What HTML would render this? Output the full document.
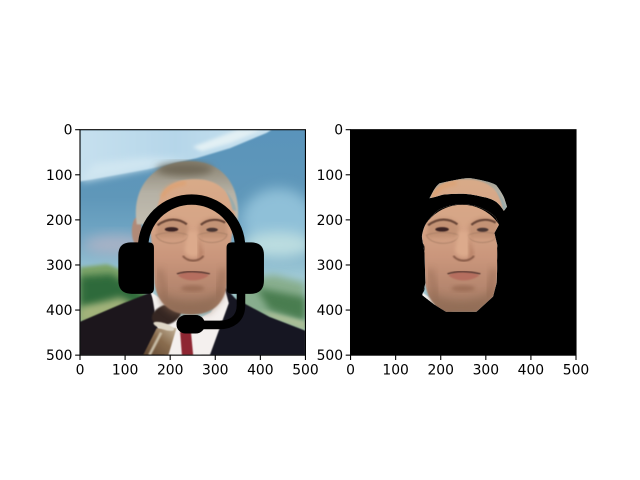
<!DOCTYPE html>
<html>
<head>
<meta charset="utf-8">
<style>
html,body{margin:0;padding:0;background:#fff;width:640px;height:480px;overflow:hidden}
svg{display:block}
text{font-family:"DejaVu Sans","Liberation Sans",sans-serif;font-size:13.89px;fill:#000}
</style>
</head>
<body>
<svg id="fig" xmlns="http://www.w3.org/2000/svg" width="640" height="480" viewBox="0 0 640 480">
<defs>
<filter id="b1" x="-20%" y="-20%" width="140%" height="140%"><feGaussianBlur stdDeviation="1.2"/></filter>
<filter id="b2" x="-20%" y="-20%" width="140%" height="140%"><feGaussianBlur stdDeviation="2"/></filter>
<filter id="b4" x="-20%" y="-20%" width="140%" height="140%"><feGaussianBlur stdDeviation="4"/></filter>
<filter id="b8" x="-30%" y="-30%" width="160%" height="160%"><feGaussianBlur stdDeviation="8"/></filter>
<filter id="b14" x="-40%" y="-40%" width="180%" height="180%"><feGaussianBlur stdDeviation="14"/></filter>
<linearGradient id="skyG" x1="0" y1="0" x2="1" y2="0"><stop offset="0" stop-color="#c6e0ee"/><stop offset=".5" stop-color="#b5d6e9"/><stop offset="1" stop-color="#c9e2ef"/></linearGradient>
<linearGradient id="blueG" x1="0" y1="0" x2="0" y2="1"><stop offset="0" stop-color="#5a94bb"/><stop offset=".3" stop-color="#5f97b9"/><stop offset=".5" stop-color="#74a9c6"/><stop offset=".65" stop-color="#9fc9d6"/><stop offset="1" stop-color="#b3d6d6"/></linearGradient>
<linearGradient id="faceG" x1="0" y1="0" x2="0" y2="1"><stop offset="0" stop-color="#d8aa88"/><stop offset=".35" stop-color="#d6a486"/><stop offset=".6" stop-color="#c8947a"/><stop offset=".8" stop-color="#b5866e"/><stop offset="1" stop-color="#95725c"/></linearGradient>
<linearGradient id="hairG" x1="0" y1="0" x2="0" y2="1"><stop offset="0" stop-color="#8a8372"/><stop offset=".5" stop-color="#b5b1a5"/><stop offset="1" stop-color="#c2bdb0"/></linearGradient>
<linearGradient id="micG" x1="1" y1="0" x2="0" y2="1"><stop offset="0" stop-color="#c4b49a"/><stop offset=".45" stop-color="#8a6d4f"/><stop offset="1" stop-color="#5f4630"/></linearGradient>
<g id="photo">
  <rect width="500" height="500" fill="url(#blueG)"/>
  <ellipse cx="440" cy="200" rx="80" ry="70" fill="#8fc0d8" filter="url(#b14)"/>
  <path d="M0 0 L425 0 L414 7 L333 41 L259 63 L148 88 L0 115 Z" fill="url(#skyG)" filter="url(#b2)"/>
  <path d="M0 116 L148 87 L240 65 L140 62 L30 75 Z" fill="#d0e6f1" filter="url(#b8)"/>
  <path d="M270 48 L333 30 L405 0 L350 0 L250 38 Z" fill="#e2f0f4" filter="url(#b4)"/>
  <ellipse cx="80" cy="255" rx="75" ry="22" fill="#a9b2c6" filter="url(#b14)"/>
  <ellipse cx="440" cy="255" rx="80" ry="28" fill="#bcdde0" filter="url(#b14)"/>
  <polygon points="0,305 60,298 140,330 150,430 0,425" fill="#7fa56a" filter="url(#b4)"/>
  <polygon points="0,325 70,320 150,370 120,395 0,395" fill="#2f6a3a" filter="url(#b8)"/>
  <polygon points="0,395 90,372 120,388 20,425 0,432" fill="#a4b47c" filter="url(#b8)"/>
  <polygon points="350,335 430,322 500,340 500,450 350,400" fill="#88ae8e" filter="url(#b8)"/>
  <polygon points="390,350 500,372 500,425 420,400" fill="#4a7d4f" filter="url(#b8)"/>
  <polygon points="400,400 500,425 500,445 430,420" fill="#a9bd96" filter="url(#b4)"/>
  <polygon points="0,426 96,385 159,360 205,500 0,500" fill="#1b141c" filter="url(#b1)"/>
  <polygon points="322,350 345,375 420,415 500,446 500,500 268,500" fill="#171420" filter="url(#b1)"/>
  <polygon points="159,362 200,405 250,425 290,405 322,355 330,385 288,500 188,500 170,430" fill="#f4f0ee" filter="url(#b1)"/>
  <path d="M155 358 L215 400 L215 412 L175 405 Z" fill="#f8f6f4" filter="url(#b1)"/>
  <polygon points="222,448 246,448 251,500 226,500" fill="#8e2630" filter="url(#b1)"/>
  <polygon points="196,500 140,500 170,440 214,440" fill="url(#micG)" filter="url(#b1)"/>
  <line x1="180" y1="450" x2="154" y2="500" stroke="#c8bca6" stroke-width="6" filter="url(#b2)"/>
  <ellipse cx="192" cy="410" rx="34" ry="22" transform="rotate(-22 192 410)" fill="#352820" filter="url(#b2)"/>
  <ellipse cx="186" cy="436" rx="24" ry="7" fill="#ded6c6" filter="url(#b1)" transform="rotate(18 186 436)"/>
  <ellipse cx="126" cy="225" rx="11" ry="30" fill="#b08a78" filter="url(#b2)"/>
  <path d="M126 210 C114 140 150 76 235 70 C322 66 356 130 350 200 L335 210 Z" fill="url(#hairG)" filter="url(#b2)"/>
  <ellipse cx="232" cy="88" rx="62" ry="14" fill="#6f6856" filter="url(#b8)"/>
  <path d="M170 190 C172 135 200 112 250 110 C298 108 322 128 337 160 L345 190 L340 215 L332 265 L327 340 C320 390 290 410 245 410 C200 410 172 385 165 340 L160 262 L156 225 Z" fill="url(#faceG)" filter="url(#b2)"/>
  <path d="M182 150 C190 130 205 122 235 118" stroke="#dca274" stroke-width="10" fill="none" filter="url(#b4)"/>
  <path d="M322 132 C335 148 345 165 347 180 L338 178 C334 158 328 145 322 132 Z" fill="#9aacac" filter="url(#b2)"/>
  <path d="M172 345 C190 392 295 392 322 345 L312 378 L285 408 L205 408 L180 388 Z" fill="#8a6650" filter="url(#b8)" opacity=".55"/>
  <path d="M170 210 C195 190 225 192 240 212 L240 238 L170 240 Z" fill="#b8886c" filter="url(#b4)" opacity=".6"/>
  <path d="M262 212 C280 190 310 190 326 206 L326 240 L262 240 Z" fill="#b8886c" filter="url(#b4)" opacity=".6"/>
  <path d="M172 212 C195 194 220 197 237 210" stroke="#6a4638" stroke-width="5" fill="none" filter="url(#b1)"/>
  <path d="M268 211 C285 197 305 197 322 206" stroke="#6a4638" stroke-width="5" fill="none" filter="url(#b1)"/>
  <path d="M168 234 C185 226 225 226 240 234 C238 256 180 260 168 234 Z" fill="none" stroke="#a27a62" stroke-width="2.5" opacity=".6" filter="url(#b1)"/>
  <path d="M260 234 C275 226 310 226 326 232 C322 256 265 256 260 234 Z" fill="none" stroke="#a27a62" stroke-width="2.5" opacity=".6" filter="url(#b1)"/>
  <ellipse cx="203" cy="221" rx="15" ry="5" fill="#3a2220" filter="url(#b1)"/>
  <ellipse cx="293" cy="222" rx="13" ry="4.5" fill="#4a3430" filter="url(#b1)"/>
  <path d="M240 225 L260 225 L268 265 C272 288 232 288 232 265 Z" fill="#dcaa8c" filter="url(#b4)"/>
  <path d="M262 235 L274 275 L262 290 Z" fill="#a87056" filter="url(#b4)" opacity=".6"/>
  <path d="M228 280 C240 294 262 294 274 280" stroke="#7f5240" stroke-width="4" fill="none" filter="url(#b2)"/>
  <path d="M217 323 C235 310 265 312 286 323 C265 338 235 338 217 323 Z" fill="#b56e5e" filter="url(#b2)"/>
  <path d="M215 320 C235 312 265 314 288 320" stroke="#5a3830" stroke-width="3.5" fill="none" filter="url(#b1)"/>
  <ellipse cx="250" cy="352" rx="26" ry="7" fill="#8f6048" filter="url(#b4)" opacity=".6"/>
  <path d="M176 310 L190 370" stroke="#8f6650" stroke-width="10" fill="none" filter="url(#b8)" opacity=".7"/>
  <path d="M318 310 L306 370" stroke="#8a6048" stroke-width="10" fill="none" filter="url(#b8)" opacity=".7"/>
</g>
<g id="headset" fill="#000">
  <path d="M140 262 L140 260 A107.5 105 0 0 1 355 260 L355 262" fill="none" stroke="#000" stroke-width="23"/>
  <path d="M113 250 H152 Q164 250 164 262 V352 Q164 364 152 364 H115 Q85 364 85 334 V278 Q85 250 113 250 Z"/>
  <path d="M337 250 H380 Q408 250 408 278 V334 Q408 364 378 364 H337 Q325 364 325 352 V262 Q325 250 337 250 Z"/>
  <path d="M357 360 L357 390 C357 420 335 433 310 433 L260 433" fill="none" stroke="#000" stroke-width="19"/>
  <rect x="214" y="411" width="63" height="41" rx="20"/>
</g>
<clipPath id="imgClip"><rect width="500" height="500"/></clipPath>
<clipPath id="faceMask">
  <path d="M175 152 C182 140 186 128 197 119 C220 114 245 108 264 107 C290 112 310 115 323 123 C332 134 338 145 341 152 L347 171 L340 180 C335 172 330 166 323 160 C312 153 300 150 293 149 C278 145 260 142 245 142 C230 142 215 143 205 144 C195 147 185 150 175 152 Z"/>
  <path d="M245 166 C262 166 275 168 286 172 C300 178 315 186 323 196 L329 211 L319 229 L327 262 L324 340 L316 370 L300 385 L279 404 L212 404 L186 388 L159 367 L166 340 L164 273 L158 237 C160 225 163 215 168 207 C176 195 186 185 197 177 C212 170 228 166 245 166 Z"/>
</clipPath>
</defs>

<g transform="translate(80,129.7) scale(.4509)">
  <g clip-path="url(#imgClip)">
    <use href="#photo"/>
    <use href="#headset"/>
  </g>
</g>
<g transform="translate(350.55,129.7) scale(.4509)">
  <rect width="500" height="500" fill="#000"/>
  <g clip-path="url(#faceMask)">
    <use href="#photo"/>
    <use href="#headset"/>
  </g>
</g>
<g id="axes-layer"></g>
</svg>
<script>
const xTickValues = [0, 100, 200, 300, 400, 500];
const yTickValues = [0, 100, 200, 300, 400, 500];
const panelLefts = [80, 350.55];
const panelTop = 129.7;
const panelSize = 225.45;
const NS = 'http://www.w3.org/2000/svg';
const layer = document.getElementById('axes-layer');
function scale(v) { return v / 500 * panelSize; }
function line(x1, y1, x2, y2) {
  const el = document.createElementNS(NS, 'line');
  el.setAttribute('x1', x1);
  el.setAttribute('y1', y1);
  el.setAttribute('x2', x2);
  el.setAttribute('y2', y2);
  el.setAttribute('stroke', '#000');
  el.setAttribute('stroke-width', '1.1');
  
  
  layer.appendChild(el);
}
function label(x, y, s, anchor) {
  const el = document.createElementNS(NS, 'text');
  el.setAttribute('x', x);
  el.setAttribute('y', y);
  el.setAttribute('text-anchor', anchor);
  el.textContent = s;
  
  
  layer.appendChild(el);
}
panelLefts.forEach(function (left) {
  const frame = document.createElementNS(NS, 'rect');
  frame.setAttribute('x', left);
  frame.setAttribute('y', panelTop);
  frame.setAttribute('width', panelSize);
  frame.setAttribute('height', panelSize);
  frame.setAttribute('fill', 'none');
  frame.setAttribute('stroke', '#000');
  frame.setAttribute('stroke-width', '1.1');
  
  
  layer.appendChild(frame);
  xTickValues.forEach(function (v) {
    const x = left + scale(v);
    line(x, panelTop + panelSize, x, panelTop + panelSize + 4.86);
    label(x, panelTop + panelSize + 19.5, String(v), 'middle');
  });
  yTickValues.forEach(function (v) {
    const y = panelTop + scale(v);
    line(left - 4.86, y, left, y);
    label(left - 7.5, y + 5, String(v), 'end');
  });
});
</script>
</body>
</html>
